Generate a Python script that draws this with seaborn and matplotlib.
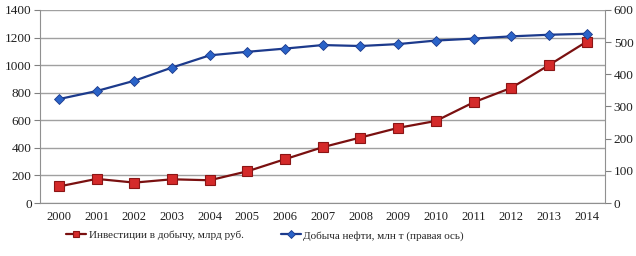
import numpy as np
import pandas as pd
import matplotlib
matplotlib.use("Agg")
import matplotlib.pyplot as plt
import seaborn as sns

years = ["2000", "2001", "2002", "2003", "2004", "2005", "2006", "2007",
         "2008", "2009", "2010", "2011", "2012", "2013", "2014"]
investicii = [120, 175, 148, 172, 165, 230, 318, 405, 475, 545, 595, 730, 835, 1000, 1170]
dobycha = [323, 348, 380, 421, 459, 470, 480, 491, 488, 494, 505, 511, 518, 523, 526]

label_inv = "Инвестиции в добычу, млрд руб."
label_oil = "Добыча нефти, млн т (правая ось)"

sns.set_style("white")
plt.rcParams["font.family"] = ["Liberation Serif", "DejaVu Serif"]
plt.rcParams["font.size"] = 9

df = pd.DataFrame({"year": years, "inv": investicii, "oil": dobycha})
df["pos"] = np.arange(len(years))

fig = plt.figure(figsize=(6.36, 2.56), dpi=100)
ax = fig.add_axes([0.063, 0.207, 0.889, 0.754])
ax2 = ax.twinx()

sns.lineplot(data=df, x="pos", y="inv", ax=ax, color="#7a1010", lw=1.6,
             marker="s", markersize=7, markerfacecolor="#d42a2a",
             markeredgecolor="#8b1515", markeredgewidth=0.8, label=label_inv, legend=False)
sns.lineplot(data=df, x="pos", y="oil", ax=ax2, color="#1c3a8c", lw=1.6,
             marker="D", markersize=5.5, markerfacecolor="#2a63c8",
             markeredgecolor="#1c3a8c", markeredgewidth=0.6, label=label_oil, legend=False)

ax.set_xlim(-0.5, len(years) - 0.5)
ax.set_ylim(0, 1400)
ax2.set_ylim(0, 600)
ax.set_yticks(range(0, 1401, 200))
ax2.set_yticks(range(0, 601, 100))
ax.set_xticks(df["pos"])
ax.set_xticklabels(years)
ax.set_xticks(np.arange(-0.5, len(years), 1.0), minor=True)
ax.tick_params(axis="x", which="major", length=0, pad=6, labelsize=9, labelcolor="#202020")
ax.tick_params(axis="x", which="minor", length=4, color="#808080", direction="out")
ax.tick_params(axis="y", length=4, color="#808080", direction="out", pad=2,
               labelsize=9.5, labelcolor="#202020")
ax2.tick_params(axis="y", length=4, color="#808080", direction="out", pad=2,
                labelsize=9.5, labelcolor="#202020")
ax.set_xlabel("")
ax.set_ylabel("")
ax2.set_ylabel("")

ax.yaxis.grid(True, color="#a0a0a0", lw=1)
ax.set_axisbelow(True)
for a in (ax, ax2):
    a.spines["top"].set_visible(False)
    for s in ("left", "right", "bottom"):
        a.spines[s].set_color("#909090")
ax.spines["right"].set_visible(False)
ax2.spines["left"].set_visible(False)
ax2.spines["bottom"].set_visible(False)

h1, l1 = ax.get_legend_handles_labels()
h2, l2 = ax2.get_legend_handles_labels()
fig.legend(h1 + h2, l1 + l2, loc="center", bbox_to_anchor=(0.417, 0.08), ncol=2,
           frameon=False, fontsize=8, handlelength=1.8, handletextpad=0.2,
           columnspacing=3.4, markerscale=0.7)

fig.savefig("out.png", dpi=100)
